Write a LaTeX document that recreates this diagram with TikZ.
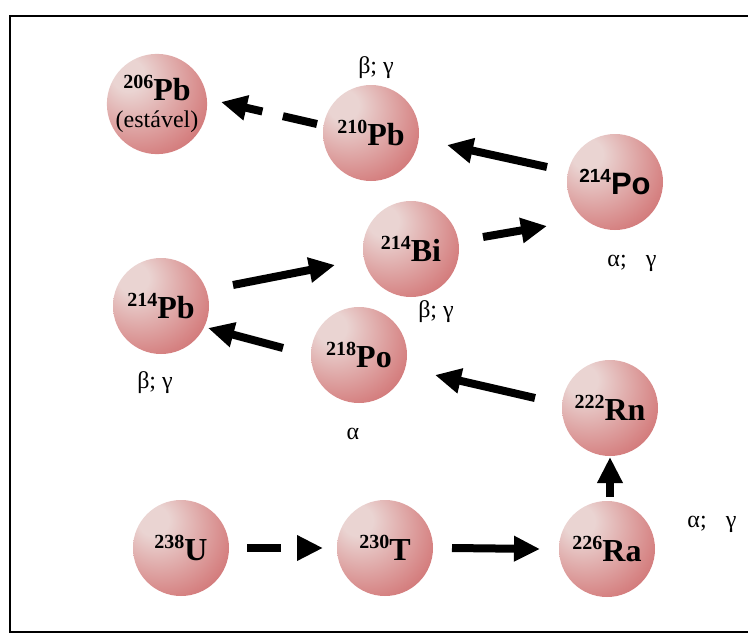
\documentclass[tikz,border=0pt]{standalone}
\usepackage{fontspec}
\setmainfont{Liberation Serif}
\newfontfamily\sansfam{Liberation Sans}
\usetikzlibrary{arrows.meta,calc}
\definecolor{bhi}{RGB}{234,212,210}
\definecolor{bmid}{RGB}{214,132,132}
\definecolor{blo}{RGB}{184,52,58}
\pgfdeclareradialshading{sphere}{\pgfpoint{-16bp}{16bp}}{color(0bp)=(bhi); color(8bp)=(bhi); color(34bp)=(bmid); color(62bp)=(blo); color(80bp)=(blo)}
\newcommand\iso[2]{\raisebox{12pt}{\fontsize{20}{20}\selectfont\bfseries #1}{\fontsize{32}{32}\selectfont\bfseries #2}}
\newcommand\isosans[2]{{\sansfam\raisebox{12pt}{\fontsize{19}{19}\selectfont\bfseries #1}{\fontsize{31}{31}\selectfont\bfseries #2}}}
\begin{document}
\begin{tikzpicture}[x=1pt,y=-1pt,
  ball/.style={circle, minimum size=96pt, inner sep=0pt, shading=sphere, align=center},
  decay/.style={font=\fontsize{24}{24}\selectfont},
  arr/.style={line width=8pt, -{Triangle[length=26pt,width=24pt]}},
  darr/.style={arr, dash pattern=on 34pt off 19pt}]
\useasboundingbox (0,0) rectangle (748,638);
\draw[line width=1.8pt] (748,16) -- (10,16) -- (10,632) -- (748,632);
% nodes
\node[ball, font=\fontsize{24}{27}\selectfont] (Pb206) at (157,104) {\iso{206}{Pb}\\(estável)};
\node[ball] (Pb210) at (371,133) {\iso{210}{Pb}};
\node[ball] (Po214) at (615,182) {\isosans{214}{Po}};
\node[ball] (Bi214) at (411,249) {\iso{214}{Bi}};
\node[ball] (Pb214) at (161,306) {\iso{214}{Pb}};
\node[ball] (Po218) at (359,355) {\iso{218}{Po}};
\node[ball] (Rn222) at (610,408) {\iso{222}{Rn}};
\node[ball] (U238) at (181,548) {\iso{238}{U}};
\node[ball] (T230) at (385,548) {\iso{230}{T}};
\node[ball] (Ra226) at (607,549) {\iso{226}{Ra}};
% decay labels
\node[decay] (l1) at (376,68) {β; γ};
\node[decay] (l2) at (632,263) {α;\hspace{0.8em}γ};
\node[decay] (l3) at (436,312) {β; γ};
\node[decay] (l4) at (155,383) {β; γ};
\node[decay] (l5) at (353,434) {α};
\node[decay] (l6) at (712,524) {α;\hspace{0.8em}γ};
% arrows
\draw[darr, dash pattern=on 35pt off 21pt] ($(Pb210)+(-54,-9)$) -- ($(Pb206)+(64,-2)$);
\draw[arr] ($(Po214)+(-68,-15)$) -- ($(Pb210)+(76,12)$);
\draw[arr] ($(Bi214)+(72,-12)$) -- ($(Po214)+(-68,44)$);
\draw[arr] ($(Pb214)+(72,-21)$) -- ($(Bi214)+(-76,16)$);
\draw[arr] ($(Po218)+(-76,-7)$) -- ($(Pb214)+(47,22)$);
\draw[arr] ($(Rn222)+(-75,-10)$) -- ($(Po218)+(76,20)$);
\draw[arr] ($(Ra226)+(3,-52)$) -- ($(Rn222)+(0,49)$);
\draw[darr] ($(U238)+(66,0)$) -- ($(T230)+(-62,0)$);
\draw[arr] ($(T230)+(67,0)$) -- ($(Ra226)+(-67,0)$);
\end{tikzpicture}
\end{document}
